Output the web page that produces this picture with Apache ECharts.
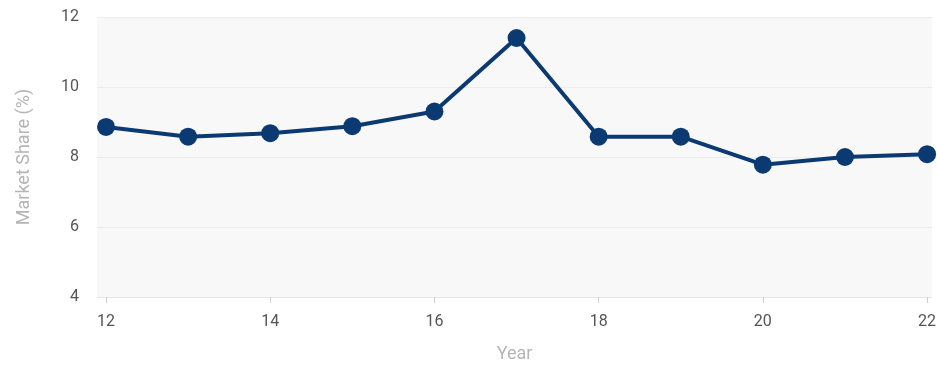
<!DOCTYPE html>
<html><head><meta charset="utf-8">
<script src="https://cdn.jsdelivr.net/npm/echarts@6/dist/echarts.min.js"></script>
<style>html,body{margin:0;padding:0;background:#fff}#c{width:937px;height:365px}</style>
</head><body><div id="c"></div>
<script>
const years = [12,13,14,15,16,17,18,19,20,21,22];
const share = [8.86,8.58,8.68,8.88,9.3,11.4,8.58,8.58,7.78,8.0,8.08];
const xTicks = [12,14,16,18,20,22];
const yTicks = [4,6,8,10,12];

const chart = echarts.init(document.getElementById('c'));
chart.setOption({
  animation:false,
  grid:{left:97,right:5,top:17,bottom:68,show:true,backgroundColor:'#f8f8f8',borderWidth:0,outerBoundsMode:'none',containLabel:false},
  xAxis:{type:'value',min:11.89,max:22.06,name:'Year',nameLocation:'middle',nameGap:48,
    nameTextStyle:{color:'#b5b5b5',fontSize:18,fontFamily:'Roboto'},
    axisLine:{show:true,lineStyle:{color:'#e6e6e6',width:1}},
    axisTick:{show:true,customValues:xTicks,length:6,inside:false,lineStyle:{color:'#cccccc'}},
    axisLabel:{customValues:xTicks,color:'#555',fontSize:16,fontFamily:'Roboto',margin:17},
    splitLine:{show:false}},
  yAxis:{type:'value',min:4,max:12,interval:2,name:'Market Share (%)',nameLocation:'middle',nameGap:64,
    nameTextStyle:{color:'#b5b5b5',fontSize:18,fontFamily:'Roboto'},
    axisLine:{show:false},axisTick:{show:false},
    axisLabel:{color:'#555',fontSize:16,fontFamily:'Roboto',margin:18,formatter:v=>yTicks.includes(v)?String(v):''},
    splitLine:{show:true,lineStyle:{color:'#ececec',width:1}}},
  series:[{type:'line',data:years.map((y,i)=>[y,share[i]]),
    lineStyle:{color:'#0b3a72',width:4},itemStyle:{color:'#0b3a72'},
    symbol:'circle',symbolSize:18,showSymbol:true}]
});
</script></body></html>
